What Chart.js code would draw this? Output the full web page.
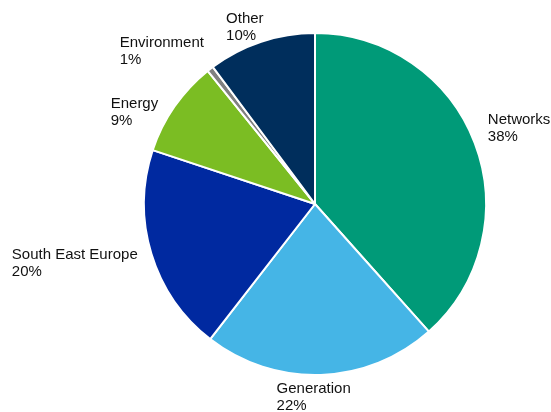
<!DOCTYPE html>
<html>
<head>
<meta charset="utf-8">
<script src="https://cdn.jsdelivr.net/npm/chart.js@4/dist/chart.umd.min.js"></script>
<style>
  html, body { margin: 0; padding: 0; background: #fff; }
  #wrap { width: 551px; height: 412px; }
</style>
</head>
<body>
<div id="wrap"><canvas id="pie"></canvas></div>
<script>
// Share by business segment (clockwise from 12 o'clock)
const categories = ['Networks', 'Generation', 'South East Europe', 'Energy', 'Environment', 'Other'];
const shares = [38.4, 22.1, 19.6, 9.1, 0.6, 10.2];
const shareLabels = ['38%', '22%', '20%', '9%', '1%', '10%'];
const colors = ['#009A78', '#45B5E6', '#0029A0', '#7BBD23', '#808080', '#002E5C'];

// draws the "name / percent" labels outside each slice
const outsideLabels = {
  id: 'outsideLabels',
  afterDatasetsDraw(chart, args, opts) {
    const ctx = chart.ctx;
    const arcs = chart.getDatasetMeta(0).data;
    const lineH = opts.lineHeight;
    const gap = opts.gap;
    ctx.save();
    ctx.font = opts.font;
    ctx.fillStyle = opts.color;
    ctx.textBaseline = 'middle';
    ctx.textAlign = 'left';
    arcs.forEach((arc, i) => {
      const p = arc.getProps(['x', 'y', 'startAngle', 'endAngle', 'outerRadius'], true);
      const mid = (p.startAngle + p.endAngle) / 2;
      const dx = Math.cos(mid), dy = Math.sin(mid);
      const lines = [categories[i], shareLabels[i]];
      const w = Math.max(...lines.map(t => ctx.measureText(t).width));
      const h = lines.length * lineH;
      // box centre pushed out from the slice edge, then nudged (Excel-style overlap avoidance)
      const nudge = opts.nudge[i] || [0, 0];
      const cx = p.x + dx * p.outerRadius + dx * (w / 2 + gap) + nudge[0];
      const cy = p.y + dy * p.outerRadius + dy * (h / 2 + gap) + nudge[1];
      const left = cx - w / 2;
      const top = cy - h / 2;
      lines.forEach((t, k) => ctx.fillText(t, left, top + lineH * k + lineH / 2));
    });
    ctx.restore();
  }
};

new Chart(document.getElementById('pie'), {
  type: 'pie',
  data: {
    labels: categories,
    datasets: [{
      data: shares,
      backgroundColor: colors,
      borderColor: '#ffffff',
      borderWidth: 2
    }]
  },
  options: {
    responsive: true,
    maintainAspectRatio: false,
    animation: false,
    layout: { padding: { left: 143, right: 64, top: 32, bottom: 36 } },
    plugins: {
      legend: { display: false },
      tooltip: { enabled: false },
      outsideLabels: {
        font: '15px "Liberation Sans", Arial, sans-serif',
        color: '#111111',
        lineHeight: 17,
        gap: 14,
        nudge: [[2, -4], [-9, -9], [-3, 1], [-9, 23], [-14, 7], [-6, 15]]
      }
    }
  },
  plugins: [outsideLabels]
});
</script>
</body>
</html>
